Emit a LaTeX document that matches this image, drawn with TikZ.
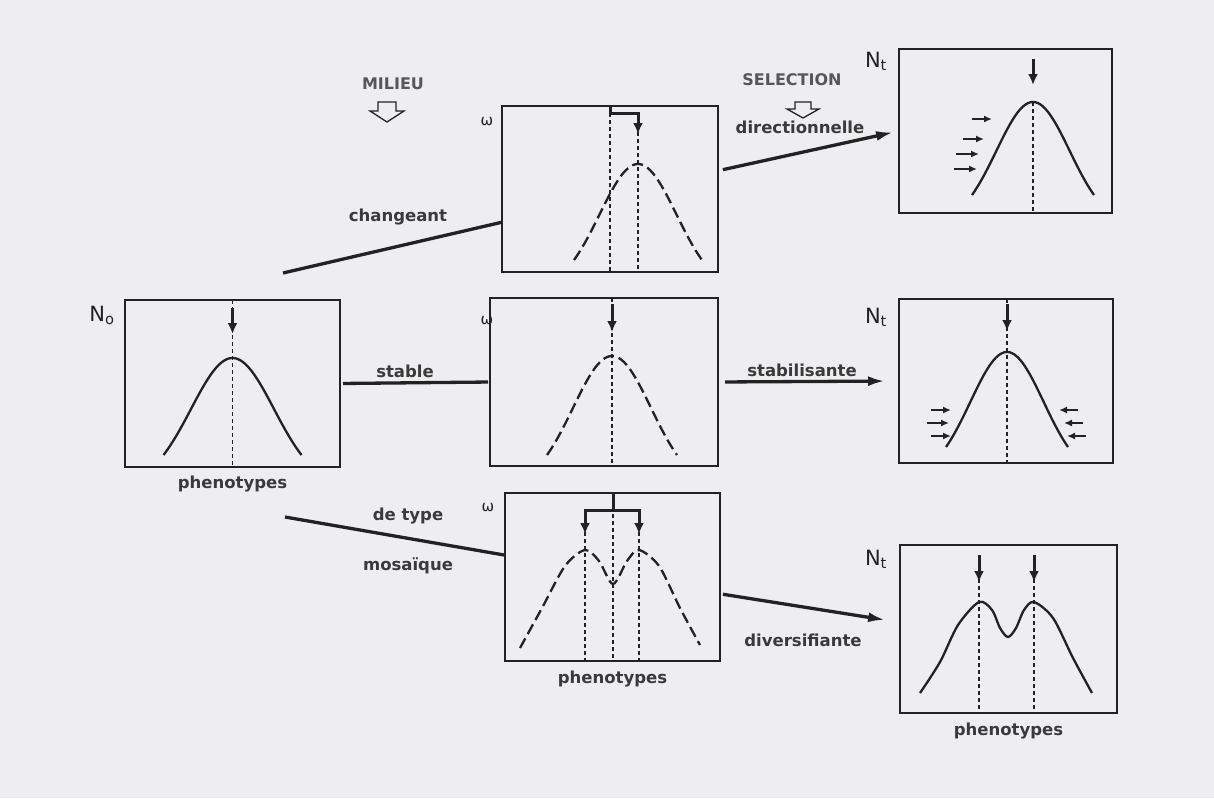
\documentclass[tikz,border=0pt]{standalone}
\usepackage{fontspec}
\setmainfont{DejaVu Sans}
\usetikzlibrary{arrows.meta,positioning,calc}
\definecolor{paper}{HTML}{EEEEF0}
\definecolor{ink}{HTML}{222222}
\definecolor{txt}{HTML}{3A3A3A}
\newcommand{\bellcurve}[5][]{\draw[#1] plot[domain=-#5:#5, samples=60, smooth] ({#2+\x}, {#3+(#4-#3)*(1-exp(-((\x)^2)/(2*(0.6*#5)^2)))/(1-exp(-1/(2*0.6^2)))});}

\begin{document}
\begin{tikzpicture}[x=1pt, y=-1pt,
  panel/.style={draw=ink, line width=1.5pt, inner sep=0pt, outer sep=0pt},
  link/.style={draw=ink, line width=3.3pt},
  sel/.style={link, -{Latex[length=17pt,width=10pt]}},
  lbl/.style={font=\fontsize{16.5}{20}\selectfont\bfseries, text=txt, inner sep=1pt},
  headline/.style={font=\fontsize{16}{20}\selectfont\bfseries, text=txt!85, inner sep=1pt},
  nlbl/.style={font=\fontsize{21}{22}\selectfont, text=ink, inner sep=1pt},
  guide/.style={ink, line width=1.2pt, dash pattern=on 4pt off 3pt},
  curve/.style={ink, line width=2.3pt},
  dcurve/.style={curve, dash pattern=on 11pt off 5pt},
  peak/.style={ink, line width=3pt, -{Latex[length=11pt,width=10pt]}},
  push/.style={ink, line width=2.2pt, -{Latex[length=8pt,width=7pt]}},
  hollow/.style={draw=ink, line width=1.3pt, fill=paper, line join=miter},
  omg/.style={font=\fontsize{15}{15}\selectfont, text=ink, inner sep=0pt}
]
\fill[paper] (0,0) rectangle (1214,798);
\useasboundingbox (0,0) rectangle (1214,798);

\node[panel, minimum width=215pt, minimum height=167pt] (orig) at (232.5,383.5) {};
\node[panel, minimum width=216pt, minimum height=166pt] (chg) at (610,189) {};
\node[panel, minimum width=228pt, minimum height=168pt] (stb) at (604,382) {};
\node[panel, minimum width=215pt, minimum height=168pt] (mos) at (612.5,577) {};
\node[panel, minimum width=213pt, minimum height=164pt] (dir) at (1005.5,131) {};
\node[panel, minimum width=214pt, minimum height=164pt] (sta) at (1006,381) {};
\node[panel, minimum width=217pt, minimum height=168pt] (div) at (1008.5,629) {};

\node[headline] (milieu) at (393,84) {MILIEU};
\node[headline] (selection) at (792,80) {SELECTION};
\coordinate (milieuarr) at (387,102);
\coordinate (selarr) at (803,102);
\draw[hollow] (milieuarr) ++(-9,0) -- ++(18,0) -- ++(0,9) -- ++(8,0) -- ++(-17,11) -- ++(-17,-11) -- ++(8,0) -- cycle;
\draw[hollow] (selarr) ++(-8,0) -- ++(16,0) -- ++(0,7) -- ++(8,0) -- ++(-16,9) -- ++(-16,-9) -- ++(8,0) -- cycle;

\node[nlbl] (n0) at (102,315) {N\textsubscript{o}};
\node[nlbl] (nt1) at (876,61) {N\textsubscript{t}};
\node[nlbl] (nt2) at (876,317) {N\textsubscript{t}};
\node[nlbl] (nt3) at (876,559) {N\textsubscript{t}};
\node[omg] (w1) at (487,122) {ω};
\node[omg] (w2) at (487,320) {ω};
\node[omg] (w3) at (488,507) {ω};

\node[lbl, below=8pt of orig] (ph1) {phenotypes};
\node[lbl, below=9pt of mos] (ph2) {phenotypes};
\node[lbl, below=9pt of div] (ph3) {phenotypes};

\coordinate (chgstart) at (283,273);
\coordinate (mosstart) at (285,517);
\draw[link] (chgstart) -- ($(chg.south west)!0.3!(chg.north west)$);
\draw[link, shorten <=3pt, shorten >=2pt] (orig.east) -- (stb.west);
\draw[link] (mosstart) -- ($(mos.south west)!0.63!(mos.north west)$);
\node[lbl] (lchg) at (398,217) {changeant};
\node[lbl] (lstb) at (405,371) {stable};
\node[lbl] (ltype) at (408,516) {de type};
\node[lbl] (lmos) at (408,566) {mosaïque};

\draw[sel, shorten <=5pt, shorten >=6pt] ($(chg.south east)!0.61!(chg.north east)$) -- (dir.west);
\draw[sel, shorten <=7pt, shorten >=14pt] (stb.east) -- (sta.west);
\draw[sel, shorten <=3pt, shorten >=15pt] ($(mos.south east)!0.4!(mos.north east)$) -- ($(div.south west)!0.54!(div.north west)$);
\node[lbl] (ldir) at (800,127) {directionnelle};
\node[lbl] (lsta) at (802,370) {stabilisante};
\node[lbl] (ldiv) at (803,640) {diversifiante};

\draw[guide] (232.5,300) -- (232.5,467);
\draw[peak] (232.5,308) -- (232.5,334);
\bellcurve[curve]{232.5}{358}{455}{69}

\draw[guide] (610,106) -- (610,272);
\draw[guide] (638,132) -- (638,272);
\draw[peak] (610,106) -- (610,113) -- (638,113) -- (638,134);
\bellcurve[dcurve]{638}{164}{260}{64}

\draw[guide] (612,298) -- (612,466);
\draw[peak] (612,304) -- (612,332);
\bellcurve[dcurve]{612}{356}{455}{65}

\draw[guide] (585,532) -- (585,661);
\draw[guide] (613,493) -- (613,661);
\draw[guide] (639,532) -- (639,661);
\draw[ink, line width=3pt] (613,494) -- (613,510);
\draw[ink, line width=3pt, {Latex[length=11pt,width=10pt]}-{Latex[length=11pt,width=10pt]}] (585,534) -- (585,510) -- (639,510) -- (639,534);
\draw[dcurve] plot[smooth] coordinates {(520,648) (542,608) (565,566) (585,550) (599,561) (613,584) (627,561) (639,550) (659,566) (680,608) (700,645)};

\draw[guide] (1033,102) -- (1033,213);
\draw[peak] (1033,59) -- (1033,85);
\bellcurve[curve]{1033}{102}{195}{61}
\draw[push] (972,119) -- (992,119);
\draw[push] (963,139) -- (984,139);
\draw[push] (956,154) -- (979,154);
\draw[push] (954,169) -- (977,169);

\draw[guide] (1007,299) -- (1007,463);
\draw[peak] (1007,304) -- (1007,331);
\bellcurve[curve]{1007}{352}{447}{61}
\draw[push] (931,410) -- (951,410);
\draw[push] (927,423) -- (949,423);
\draw[push] (931,436) -- (951,436);
\draw[push] (1078,410) -- (1059,410);
\draw[push] (1083,423) -- (1064,423);
\draw[push] (1086,436) -- (1067,436);

\draw[guide] (979,572) -- (979,713);
\draw[guide] (1034,572) -- (1034,713);
\draw[peak] (979,555) -- (979,582);
\draw[peak] (1034,555) -- (1034,582);
\draw[curve] plot[smooth] coordinates {(920,693) (940,662) (958,625) (979,602) (992,610) (1000,628) (1008,637) (1016,628) (1024,610) (1034,602) (1053,618) (1073,658) (1092,693)};
\end{tikzpicture}
\end{document}
